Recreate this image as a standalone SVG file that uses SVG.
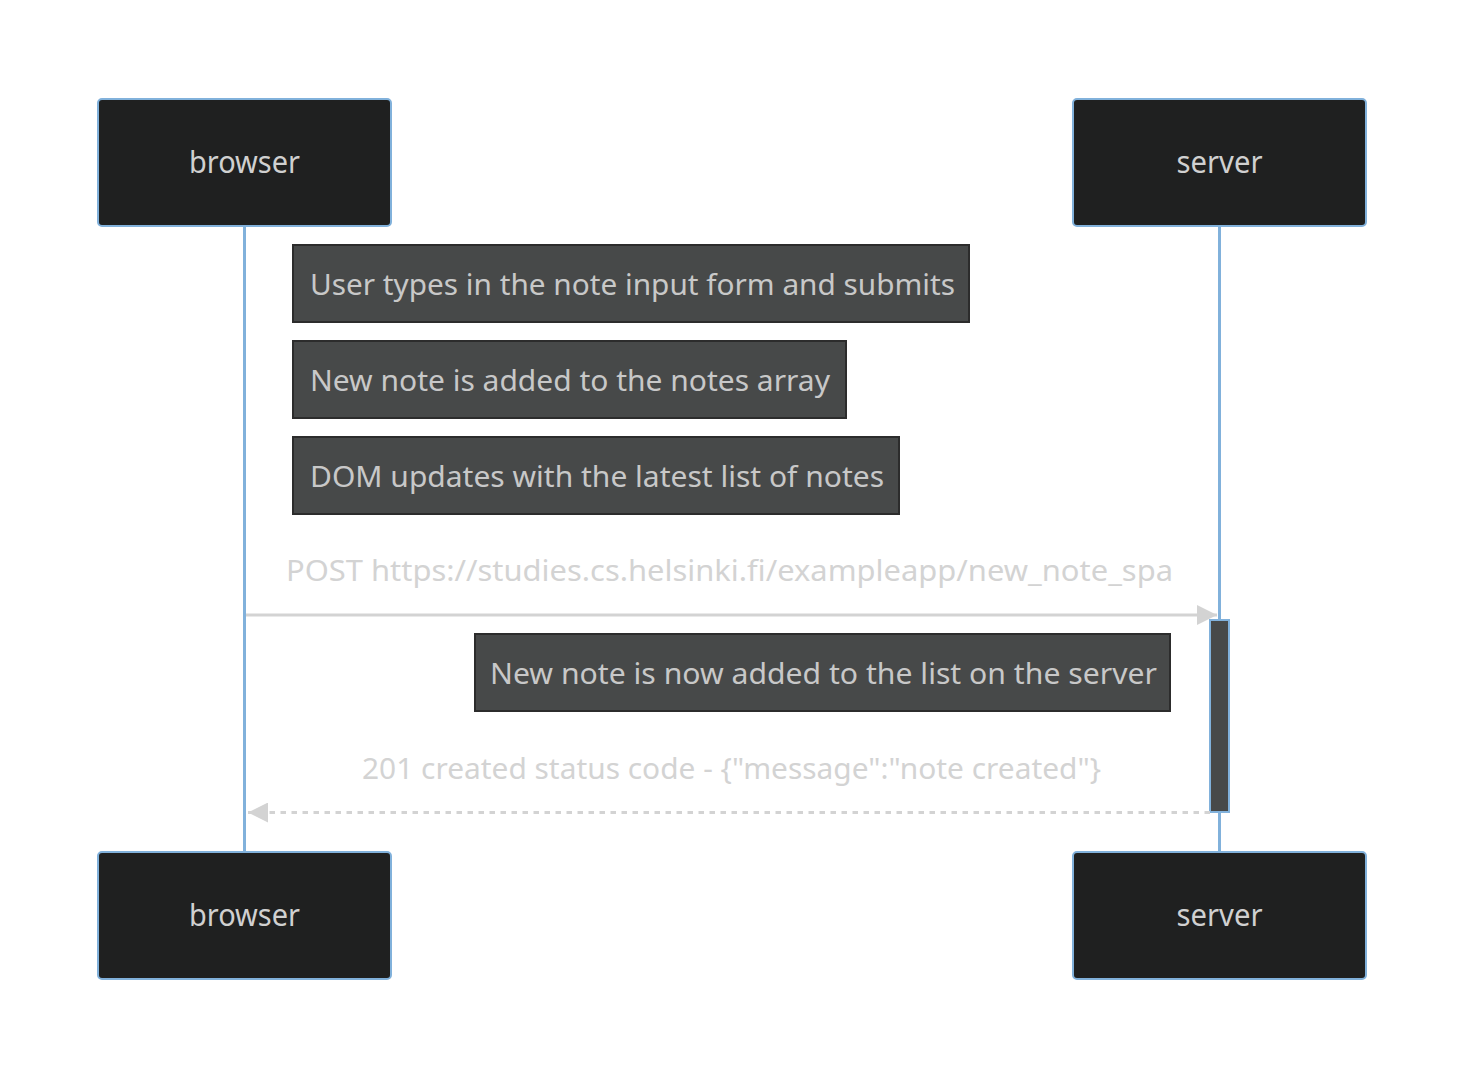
<svg xmlns="http://www.w3.org/2000/svg" width="1464" height="1080" viewBox="0 0 1464 1080">
<defs>
<style>
.actor{fill:#1f2020;stroke:#81b1db;stroke-width:2}
.actorText{fill:#d0d0d0;font-family:"Noto Sans","Open Sans",sans-serif;font-size:30px;text-anchor:middle}
.life{stroke:#81b1db;stroke-width:3;fill:none}
.note{fill:#474949;stroke:#2c2c2c;stroke-width:2}
.noteText{fill:#c8c8c8;font-family:"Noto Sans","Open Sans",sans-serif;font-size:29px}
.msgText{fill:#d3d3d3;font-family:"Noto Sans","Open Sans",sans-serif;font-size:29px;text-anchor:middle}
.msg{stroke:#d3d3d3;stroke-width:3;fill:none}
.act{fill:#474949;stroke:#81b1db;stroke-width:2}
</style>
<marker id="arrow" viewBox="0 0 20 20" refX="20" refY="10" markerWidth="20" markerHeight="20" markerUnits="userSpaceOnUse" orient="auto">
<path d="M0,0 L20,10 L0,20 z" fill="#d3d3d3"/>
</marker>
</defs>
<rect width="1464" height="1080" fill="#ffffff"/>
<g id="lifelines">
<line class="life" x1="244.5" y1="226" x2="244.5" y2="852"/>
<line class="life" x1="1219.5" y1="226" x2="1219.5" y2="852"/>
</g>
<g id="actor-browser-top">
<rect class="actor" x="98" y="99" width="293" height="127" rx="4"/>
<text class="actorText" x="244.5" y="173" textLength="111" lengthAdjust="spacingAndGlyphs">browser</text>
</g>
<g id="actor-server-top">
<rect class="actor" x="1073" y="99" width="293" height="127" rx="4"/>
<text class="actorText" x="1219.5" y="173" textLength="86" lengthAdjust="spacingAndGlyphs">server</text>
</g>
<g id="actor-browser-bottom">
<rect class="actor" x="98" y="852" width="293" height="127" rx="4"/>
<text class="actorText" x="244.5" y="926" textLength="111" lengthAdjust="spacingAndGlyphs">browser</text>
</g>
<g id="actor-server-bottom">
<rect class="actor" x="1073" y="852" width="293" height="127" rx="4"/>
<text class="actorText" x="1219.5" y="926" textLength="86" lengthAdjust="spacingAndGlyphs">server</text>
</g>
<g id="note-1">
<rect class="note" x="293" y="245" width="676" height="77"/>
<text class="noteText" x="310" y="295" textLength="645" lengthAdjust="spacingAndGlyphs">User types in the note input form and submits</text>
</g>
<g id="note-2">
<rect class="note" x="293" y="341" width="553" height="77"/>
<text class="noteText" x="310" y="391" textLength="520" lengthAdjust="spacingAndGlyphs">New note is added to the notes array</text>
</g>
<g id="note-3">
<rect class="note" x="293" y="437" width="606" height="77"/>
<text class="noteText" x="310" y="487" textLength="574" lengthAdjust="spacingAndGlyphs">DOM updates with the latest list of notes</text>
</g>
<g id="activation-server">
<rect class="act" x="1210" y="620" width="19" height="192"/>
</g>
<g id="note-4">
<rect class="note" x="475" y="634" width="695" height="77"/>
<text class="noteText" x="490" y="684" textLength="667" lengthAdjust="spacingAndGlyphs">New note is now added to the list on the server</text>
</g>
<g id="connectors">
<text class="msgText" x="729.5" y="581" textLength="887" lengthAdjust="spacingAndGlyphs">POST https://studies.cs.helsinki.fi/exampleapp/new_note_spa</text>
<line class="msg" x1="246" y1="615" x2="1217" y2="615" marker-end="url(#arrow)"/>
<text class="msgText" x="731.5" y="779" textLength="739" lengthAdjust="spacingAndGlyphs">201 created status code - {"message":"note created"}</text>
<line class="msg" x1="1210" y1="812.5" x2="248" y2="812.5" stroke-dasharray="5.5,5.5" marker-end="url(#arrow)"/>
</g>
</svg>
